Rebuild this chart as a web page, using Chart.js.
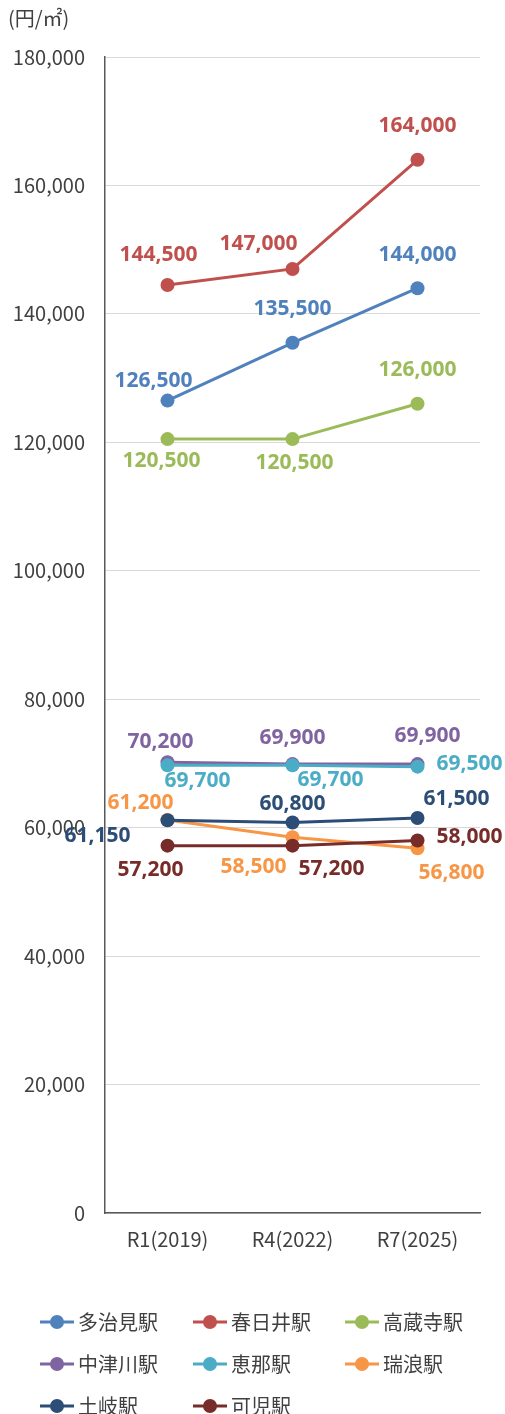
<!DOCTYPE html>
<html>
<head>
<meta charset="utf-8">
<script src="https://cdn.jsdelivr.net/npm/chart.js@4"></script>
<style>
  html, body { margin: 0; padding: 0; background: #fff; }
  #wrap { width: 505px; height: 1414px; position: relative; }
</style>
</head>
<body>
<div id="wrap"><canvas id="chart"></canvas></div>
<script>
// data
const categories = ['R1(2019)', 'R4(2022)', 'R7(2025)'];
const stations = ['多治見駅', '春日井駅', '高蔵寺駅', '中津川駅', '恵那駅', '瑞浪駅', '土岐駅', '可児駅'];
const tajimi    = [126500, 135500, 144000];
const kasugai   = [144500, 147000, 164000];
const kozoji    = [120500, 120500, 126000];
const nakatsu   = [70200, 69900, 69900];
const ena       = [69700, 69700, 69500];
const mizunami  = [61200, 58500, 56800];
const toki      = [61150, 60800, 61500];
const kani      = [57200, 57200, 58000];
const unitLabel = '(円/㎡)';

const seriesValues = [tajimi, kasugai, kozoji, nakatsu, ena, mizunami, toki, kani];
const colors = ['#4F81BD', '#C0504D', '#9BBB59', '#8064A2', '#4BACC6', '#F79646', '#2C4D75', '#772C2A'];

// where each value label sits relative to its point [dx, dy]
const labelOffsets = [
    [[-14, -20], [0, -34], [0, -33]],
    [[-9, -30], [-34, -25], [0, -34]],
    [[-6, 22], [2, 24], [0, -34]],
    [[-7, -20], [0, -26], [10, -28]],
    [[30, 16], [38, 15], [52, -3]],
    [[-27, -17], [-39, 30], [34, 25]],
    [[-70, 16], [0, -19], [39, -19]],
    [[-17, 24], [39, 23], [52, -3]]
];

const fmt = v => v.toLocaleString('en-US');
const tickFont = '"Noto Sans CJK JP", "Noto Sans", sans-serif';

const datasets = stations.map((name, i) => ({
    label: name,
    data: seriesValues[i],
    borderColor: colors[i],
    backgroundColor: colors[i],
    borderWidth: 3,
    pointRadius: 7,
    pointHoverRadius: 7,
    pointBorderWidth: 0,
    order: -i
}));

// value labels next to the points
const valueLabels = {
    id: 'valueLabels',
    afterDatasetsDraw(chart) {
        const c = chart.ctx;
        c.save();
        c.font = 'bold 21px "Noto Sans", "Liberation Sans", sans-serif';
        c.textAlign = 'center';
        c.textBaseline = 'middle';
        chart.data.datasets.forEach((ds, i) => {
            const meta = chart.getDatasetMeta(i);
            meta.data.forEach((pt, j) => {
                const off = labelOffsets[i][j];
                c.fillStyle = ds.borderColor;
                c.fillText(fmt(ds.data[j]), pt.x + off[0], pt.y + off[1]);
            });
        });
        c.restore();
    }
};

// unit text and the 3-column legend
const extras = {
    id: 'extras',
    afterDraw(chart) {
        const c = chart.ctx;
        c.save();
        c.fillStyle = '#404040';
        c.font = '20px ' + tickFont;
        c.textBaseline = 'middle';
        c.textAlign = 'left';
        c.fillText(unitLabel, 8, 18);

        const colX = [40, 193, 345];
        const rowY = [1322, 1364, 1406];
        c.font = '20px ' + tickFont;
        chart.data.datasets.forEach((ds, i) => {
            const x = colX[i % 3];
            const y = rowY[Math.floor(i / 3)];
            c.strokeStyle = ds.borderColor;
            c.lineWidth = 3;
            c.beginPath();
            c.moveTo(x, y);
            c.lineTo(x + 34, y);
            c.stroke();
            c.fillStyle = ds.borderColor;
            c.beginPath();
            c.arc(x + 17, y, 7, 0, Math.PI * 2);
            c.fill();
            c.fillStyle = '#404040';
            c.fillText(ds.label, x + 38, y);
        });
        c.restore();
    }
};

let ctx = document.getElementById('chart');

let myChart = new Chart(ctx, {
    type: 'line',
    data: {
        labels: categories,
        datasets: datasets
    },
    options: {
        responsive: true,
        maintainAspectRatio: false,
        animation: false,
        layout: {
            padding: { top: 57, right: 25, bottom: 151, left: 0 }
        },
        plugins: {
            legend: { display: false },
            tooltip: { enabled: false }
        },
        scales: {
            x: {
                offset: true,
                grid: { display: false, drawTicks: false },
                border: { display: true, color: '#595959', width: 1.5 },
                ticks: {
                    color: '#404040',
                    font: { family: tickFont, size: 20 },
                    padding: 14,
                    maxRotation: 0
                },
                afterFit(scale) { scale.height = 50; }
            },
            y: {
                min: 0,
                max: 180000,
                grid: { color: '#D9D9D9', lineWidth: 1, drawTicks: false },
                border: { display: true, color: '#595959', width: 1.5 },
                ticks: {
                    stepSize: 20000,
                    color: '#404040',
                    font: { family: tickFont, size: 20 },
                    padding: 20,
                    callback: v => fmt(v)
                },
                afterFit(scale) { scale.width = 105; }
            }
        }
    },
    plugins: [valueLabels, extras]
});
</script>
</body>
</html>
